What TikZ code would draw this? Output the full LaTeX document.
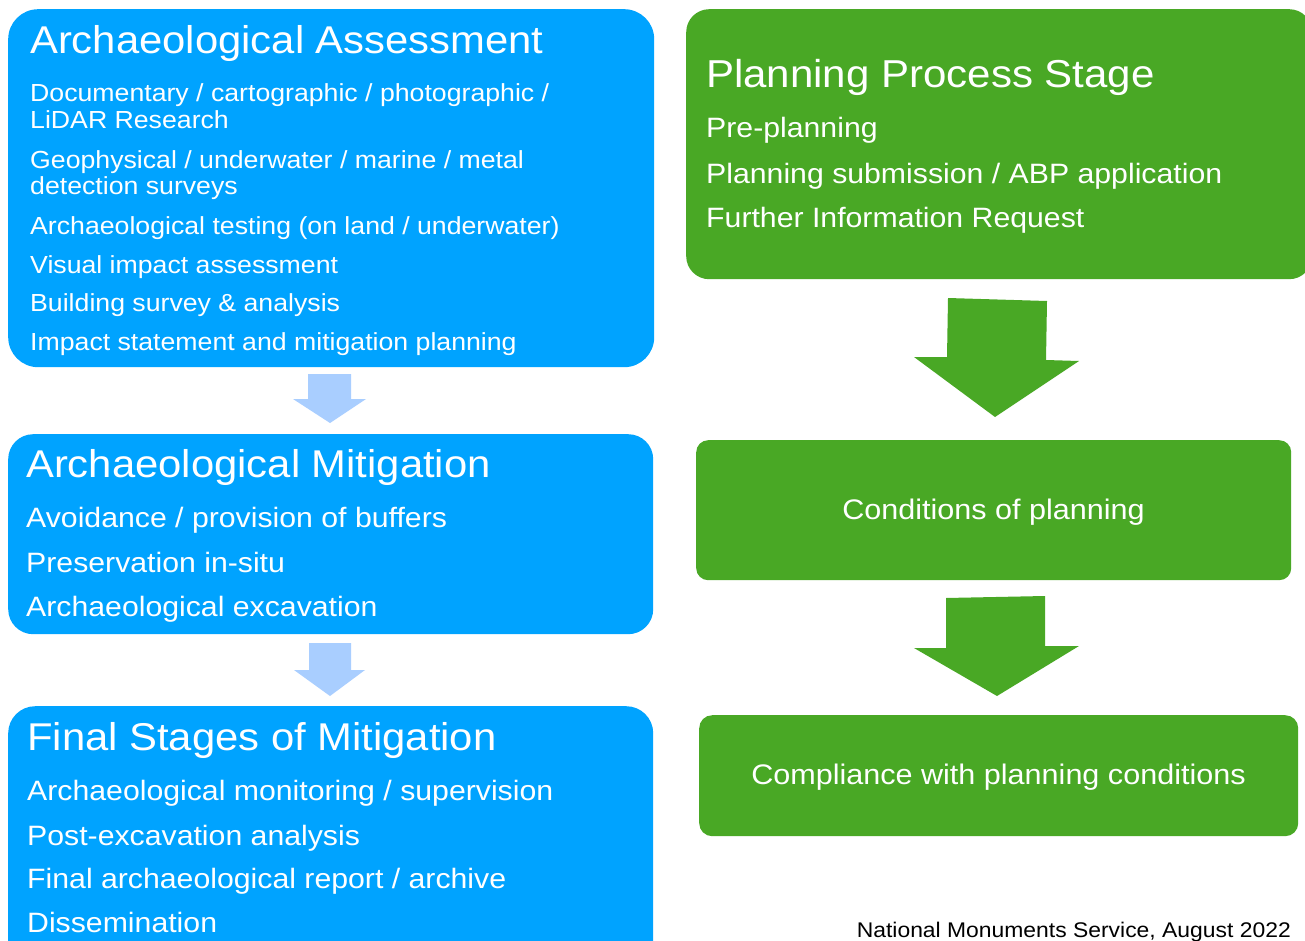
\documentclass[tikz,border=0pt]{standalone}
\usepackage{fontspec}
\setmainfont{Liberation Sans}[FakeStretch=1.08]
\definecolor{bluebox}{RGB}{0,163,255}
\definecolor{lightarrow}{RGB}{169,206,255}
\definecolor{greenbox}{RGB}{73,168,37}
\tikzset{
  bbox/.style={fill=bluebox, draw=none, rectangle, anchor=north west, inner sep=0},
  gbox/.style={fill=greenbox, draw=none, rectangle, anchor=north west, inner sep=0},
  ttl/.style={anchor=base west, inner sep=0, text=white, font=\fontsize{38.7}{40}\selectfont},
  gttl/.style={anchor=base west, inner sep=0, text=white, font=\fontsize{38.9}{40}\selectfont},
  smalltxt/.style={anchor=base west, inner sep=0, text=white, font=\fontsize{24.7}{27}\selectfont},
  bodytxt/.style={anchor=base west, inner sep=0, text=white, font=\fontsize{28}{30}\selectfont},
  ctrtxt/.style={anchor=base, inner sep=0, text=white, font=\fontsize{28.3}{30}\selectfont},
  foot/.style={anchor=base east, inner sep=0, text=black, font=\fontsize{21.2}{23}\selectfont},
  lblue/.style={fill=lightarrow, draw=none},
  garrow/.style={fill=greenbox, draw=none}
}
\begin{document}
\begin{tikzpicture}[x=1pt, y=-1pt]
\useasboundingbox (0,0) rectangle (1305,941);
\clip (0,0) rectangle (1305,941);
\fill[white] (0,0) rectangle (1305,941);
% left column boxes
\node[bbox, minimum width=646, minimum height=358, rounded corners=30] (assess) at (8,9) {};
\node[bbox, minimum width=645, minimum height=200, rounded corners=25] (mitig) at (8,434) {};
\node[bbox, minimum width=645, minimum height=274, rounded corners=27] (final) at (8,706) {};
% right column boxes
\node[gbox, minimum width=626, minimum height=270, rounded corners=23] (plan) at (686,9) {};
\node[gbox, minimum width=595, minimum height=140, rounded corners=12] (cond) at (696,440) {};
\node[gbox, minimum width=599, minimum height=121, rounded corners=13] (comp) at (699,715) {};
% light blue arrows
\fill[lblue] (308,374) -- (351,374) -- (351,399) -- (366,399) -- (330,423) -- (293,399) -- (308,399) -- cycle;
\fill[lblue] (309,643) -- (351,643) -- (351,670) -- (365,670) -- (330,696) -- (294,670) -- (309,670) -- cycle;
% green arrows
\fill[garrow] (948,298) -- (1047,301) -- (1046,360) -- (1079,361) -- (995,417) -- (914,357) -- (947,357) -- cycle;
\fill[garrow] (946,598) -- (1045,596) -- (1045,646) -- (1079,646) -- (997,696) -- (914,648) -- (946,648) -- cycle;
% Archaeological Assessment
\node[ttl] (t1) at (30,54) {Archaeological Assessment};
\node[smalltxt] (a1) at (30,102) {Documentary / cartographic / photographic /};
\node[smalltxt] (a1b) at (30,129) {LiDAR Research};
\node[smalltxt] (a2) at (30,169) {Geophysical / underwater / marine / metal};
\node[smalltxt] (a2b) at (30,195) {detection surveys};
\node[smalltxt] (a3) at (30,235) {Archaeological testing (on land / underwater)};
\node[smalltxt] (a4) at (30,273) {Visual impact assessment};
\node[smalltxt] (a5) at (30,311) {Building survey \& analysis};
\node[smalltxt] (a6) at (30,350) {Impact statement and mitigation planning};
% Archaeological Mitigation
\node[ttl] (t2) at (26,477) {Archaeological Mitigation};
\node[bodytxt] (m1) at (26,527) {Avoidance / provision of buffers};
\node[bodytxt] (m2) at (26,572) {Preservation in-situ};
\node[bodytxt] (m3) at (26,616) {Archaeological excavation};
% Final Stages
\node[ttl] (t3) at (27,750) {Final Stages of Mitigation};
\node[bodytxt] (f1) at (27,800) {Archaeological monitoring / supervision};
\node[bodytxt] (f2) at (27,845) {Post-excavation analysis};
\node[bodytxt] (f3) at (27,888) {Final archaeological report / archive};
\node[bodytxt] (f4) at (27,932) {Dissemination};
% Planning Process Stage
\node[gttl] (t4) at (706,88) {Planning Process Stage};
\node[bodytxt] (p1) at (706,138) {Pre-planning};
\node[bodytxt] (p2) at (706,184) {Planning submission / ABP application};
\node[bodytxt] (p3) at (706,228) {Further Information Request};
% centred texts
\node[ctrtxt] (c1) at (993.5,519) {Conditions of planning};
\node[ctrtxt] (c2) at (998.5,784) {Compliance with planning conditions};
% footer
\node[foot] (ft) at (1291,937) {National Monuments Service, August 2022};
\end{tikzpicture}
\end{document}
